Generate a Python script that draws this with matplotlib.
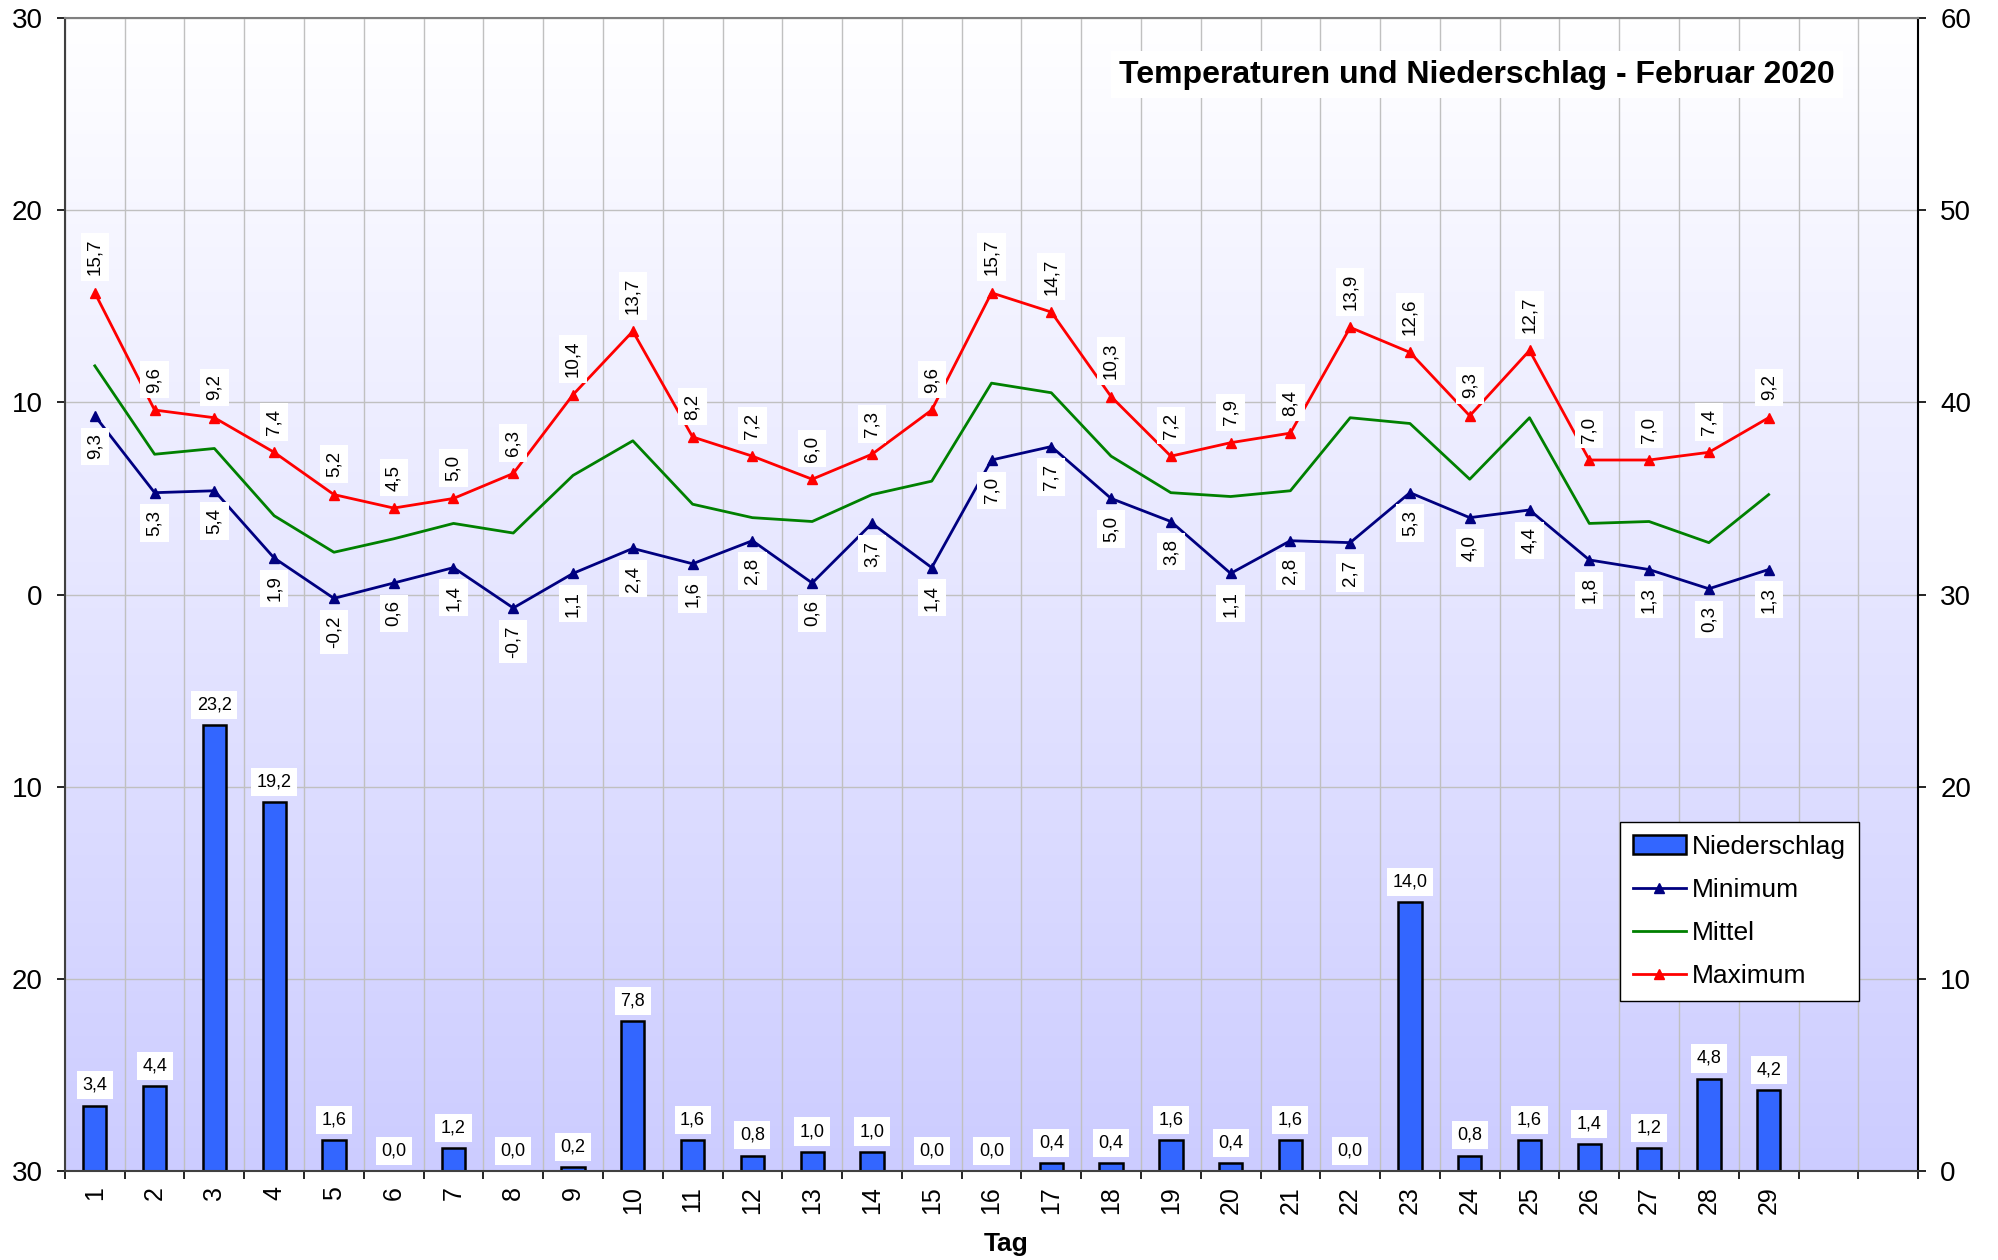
import numpy as np
import matplotlib
matplotlib.use('Agg')
import matplotlib.pyplot as plt
from matplotlib.ticker import FixedLocator, FuncFormatter, NullFormatter
from matplotlib.colors import LinearSegmentedColormap

plt.rcParams['font.family'] = ['Liberation Sans', 'DejaVu Sans']

# Daten Februar 2020
tage = list(range(1, 30))
n_slots = 31
t_max = [15.7, 9.6, 9.2, 7.4, 5.2, 4.5, 5.0, 6.3, 10.4, 13.7, 8.2, 7.2, 6.0, 7.3, 9.6,
         15.7, 14.7, 10.3, 7.2, 7.9, 8.4, 13.9, 12.6, 9.3, 12.7, 7.0, 7.0, 7.4, 9.2]
t_min = [9.3, 5.3, 5.4, 1.9, -0.2, 0.6, 1.4, -0.7, 1.1, 2.4, 1.6, 2.8, 0.6, 3.7, 1.4,
         7.0, 7.7, 5.0, 3.8, 1.1, 2.8, 2.7, 5.3, 4.0, 4.4, 1.8, 1.3, 0.3, 1.3]
t_mittel = [11.9, 7.3, 7.6, 4.1, 2.2, 2.9, 3.7, 3.2, 6.2, 8.0, 4.7, 4.0, 3.8, 5.2, 5.9,
            11.0, 10.5, 7.2, 5.3, 5.1, 5.4, 9.2, 8.9, 6.0, 9.2, 3.7, 3.8, 2.7, 5.2]
niederschlag = [3.4, 4.4, 23.2, 19.2, 1.6, 0.0, 1.2, 0.0, 0.2, 7.8, 1.6, 0.8, 1.0, 1.0, 0.0,
                0.0, 0.4, 0.4, 1.6, 0.4, 1.6, 0.0, 14.0, 0.8, 1.6, 1.4, 1.2, 4.8, 4.2]

fmt = lambda v: f'{v:.1f}'.replace('.', ',')

fig = plt.figure(figsize=(19.98, 12.6), dpi=100)
ax_p = fig.add_subplot(111)
fig.subplots_adjust(left=0.0325, right=0.960, top=0.9857, bottom=0.0706)
ax_t = ax_p.twinx()

x = np.array(tage)
x_lo, x_hi = 0.5, n_slots + 0.5

# Hintergrund-Verlauf (weiss -> lavendel)
cmap = LinearSegmentedColormap.from_list('bg', ['#CCCCFF', '#FFFFFF'])
grad = np.linspace(0, 1, 256).reshape(-1, 1)
ax_p.imshow(grad, extent=[x_lo, x_hi, 0, 60], origin='lower', aspect='auto',
            cmap=cmap, zorder=0)

# Balken Niederschlag
ax_p.bar(x, niederschlag, width=0.39, color='#3366FF', edgecolor='black',
         linewidth=1.8, zorder=3, label='Niederschlag')
for xi, v in zip(x, niederschlag):
    ax_p.annotate(fmt(v), (xi, v), xytext=(0, 8.5), textcoords='offset points',
                  ha='center', va='bottom', fontsize=13, zorder=4,
                  bbox=dict(facecolor='white', edgecolor='none', pad=4))

ax_p.set_xlim(x_lo, x_hi)
ax_p.set_ylim(0, 60)
ax_p.set_yticks(np.arange(0, 61, 10))
ax_p.yaxis.tick_right()
ax_p.tick_params(axis='y', which='major', direction='out', length=6, width=1.2,
                 labelsize=20, pad=10)

# x-Achse: Striche an den Grenzen, Beschriftung in der Mitte
ax_p.xaxis.set_major_locator(FixedLocator(np.arange(x_lo, x_hi + 0.01, 1)))
ax_p.xaxis.set_major_formatter(NullFormatter())
ax_p.xaxis.set_minor_locator(FixedLocator(x))
ax_p.xaxis.set_minor_formatter(FuncFormatter(lambda v, p: f'{int(round(v))}'))
ax_p.tick_params(axis='x', which='major', direction='out', length=6, width=1.2)
ax_p.tick_params(axis='x', which='minor', length=0, labelsize=18, pad=11,
                 labelrotation=90)

ax_p.set_axisbelow(True)
ax_p.grid(which='major', color='#C0C0C0', linewidth=1.0)
ax_p.set_xlabel('Tag', fontsize=19, fontweight='bold')
ax_p.xaxis.set_label_coords(0.508, -0.053)

# Temperaturen
ax_t.plot(x, t_min, color='#000080', linewidth=2, marker='^', markersize=7,
          label='Minimum', zorder=5)
ax_t.plot(x, t_mittel, color='#008000', linewidth=2, label='Mittel', zorder=5)
ax_t.plot(x, t_max, color='#FF0000', linewidth=2, marker='^', markersize=7,
          label='Maximum', zorder=5)

for xi, v in zip(x, t_max):
    ax_t.annotate(fmt(v), (xi, v), xytext=(0, 12.5), textcoords='offset points',
                  ha='center', va='bottom', rotation=90, fontsize=13.5, zorder=6,
                  bbox=dict(facecolor='white', edgecolor='none', pad=4))
for xi, v in zip(x, t_min):
    ax_t.annotate(fmt(v), (xi, v), xytext=(0, -12.5), textcoords='offset points',
                  ha='center', va='top', rotation=90, fontsize=13.5, zorder=6,
                  bbox=dict(facecolor='white', edgecolor='none', pad=4))

ax_t.set_ylim(-30, 30)
ax_t.set_yticks(np.arange(-30, 31, 10))
ax_t.yaxis.tick_left()
ax_t.yaxis.set_major_formatter(FuncFormatter(lambda v, p: f'{abs(int(round(v)))}'))
ax_t.tick_params(axis='y', direction='out', length=6, width=1.2, labelsize=20, pad=10)

for name, sp in ax_t.spines.items():
    sp.set_linewidth(1.5)
ax_t.spines['left'].set_color('#404040')
ax_t.spines['bottom'].set_color('#404040')
ax_t.spines['top'].set_color('#808080')
ax_t.spines['right'].set_color('black')
for sp in ax_p.spines.values():
    sp.set_visible(False)

# Titel
ax_t.text(0.955, 0.951, 'Temperaturen und Niederschlag - Februar 2020',
          transform=ax_t.transAxes, ha='right', va='center', fontsize=23,
          fontweight='bold', zorder=7,
          bbox=dict(facecolor='white', edgecolor='none', pad=6))

# Legende
h1, l1 = ax_p.get_legend_handles_labels()
h2, l2 = ax_t.get_legend_handles_labels()
leg = ax_t.legend(h1 + h2, l1 + l2, loc='upper left', bbox_to_anchor=(0.839, 0.303),
                  fontsize=19, frameon=True, fancybox=False, shadow=False,
                  facecolor='white', edgecolor='black', framealpha=1,
                  handlelength=2.0, handletextpad=0.25, labelspacing=0.72,
                  borderpad=0.5, borderaxespad=0)
leg.get_frame().set_linewidth(1.0)
leg.set_zorder(10)

plt.savefig('out.png', dpi=100)
